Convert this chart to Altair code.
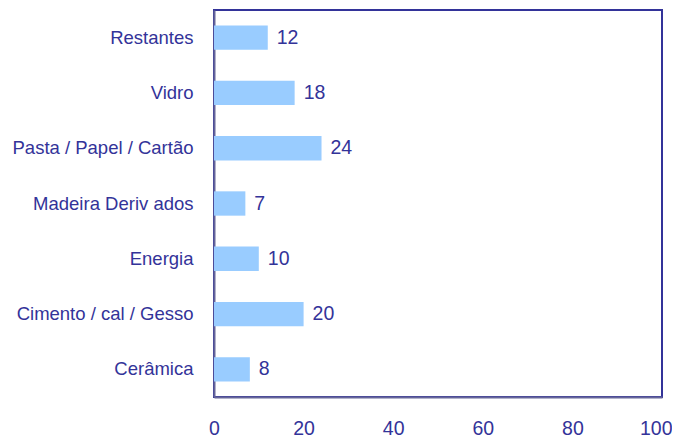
import altair as alt
import pandas as pd

categories = ["Restantes", "Vidro", "Pasta / Papel / Cartão", "Madeira Deriv ados",
              "Energia", "Cimento / cal / Gesso", "Cerâmica"]
values = [12, 18, 24, 7, 10, 20, 8]
x_ticks = [0, 20, 40, 60, 80, 100]

df = pd.DataFrame({"cat": categories, "val": values})

TEXT = "#333399"

base = alt.Chart(df).encode(
    y=alt.Y("cat:N", sort=categories, title=None,
            scale=alt.Scale(paddingInner=0.56, paddingOuter=0.28),
            axis=alt.Axis(labelFont="Liberation Sans", labelFontSize=18.5,
                          labelColor=TEXT, ticks=False, labelPadding=21,
                          domainColor="#66669A", domainWidth=2, labelLimit=300)),
)

bars = base.mark_bar(color="#99CCFF").encode(
    x=alt.X("val:Q", title=None,
            scale=alt.Scale(domain=[0, 100]),
            axis=alt.Axis(values=x_ticks, grid=False, ticks=False,
                          labelFlush=False,
                          labelAlign=alt.expr("datum.value == 100 ? 'right' : 'center'"),
                          labelOffset=alt.expr("datum.value == 100 ? 10 : 0"),
                          labelFont="Liberation Sans", labelFontSize=19.5,
                          labelColor=TEXT, labelPadding=22,
                          domainColor="#66669A", domainWidth=2)),
)

labels = base.mark_text(align="left", baseline="middle", dx=9,
                        font="Liberation Sans", fontSize=19.5, color=TEXT).encode(
    x=alt.X("val:Q"),
    text=alt.Text("val:Q"),
)

chart = (bars + labels).properties(
    width=448, height=387,
    autosize=alt.AutoSizeParams(type="none"),
    padding={"left": 206, "top": 2, "right": 10, "bottom": 40},
).configure_view(stroke="#333399", strokeWidth=2)

chart.save("out.html", embed_options={"renderer": "svg", "actions": False})
